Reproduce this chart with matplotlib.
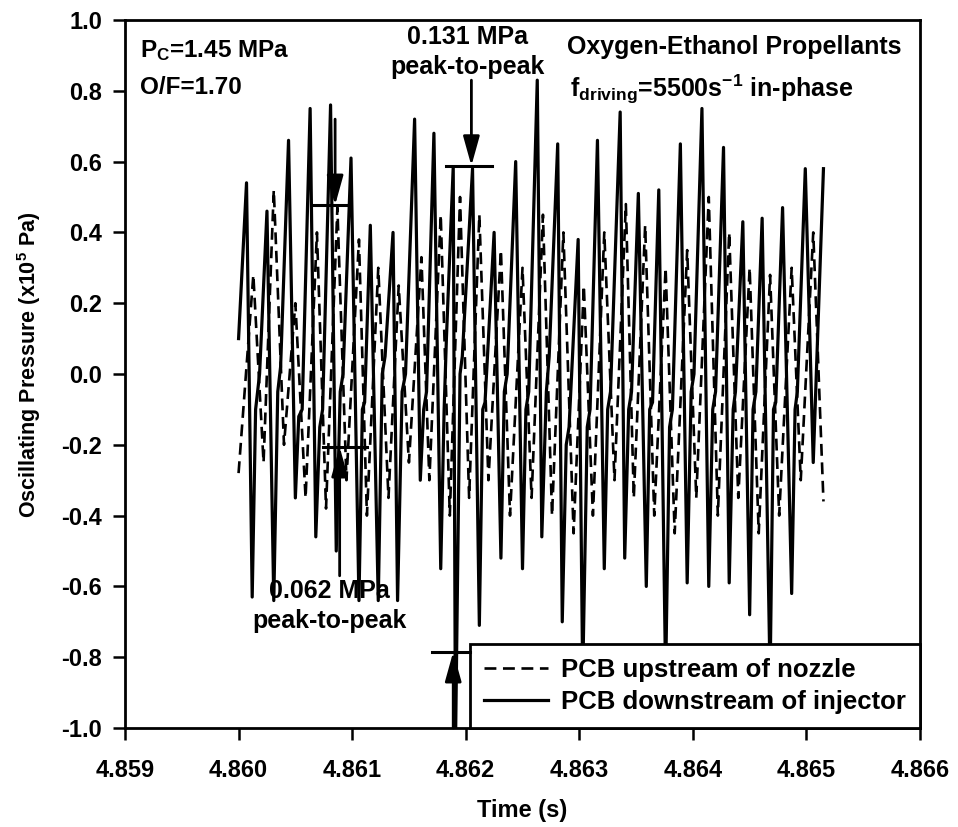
import matplotlib
matplotlib.use("Agg")
import matplotlib.pyplot as plt

plt.rcParams['font.family'] = ['Liberation Sans', 'DejaVu Sans']
plt.rcParams['font.weight'] = 'bold'
plt.rcParams['axes.labelweight'] = 'bold'
plt.rcParams['mathtext.default'] = 'regular'

t0 = 4.860

# downstream of injector (solid): time offsets in microseconds from 4.860 s, values in 1e5 Pa
down_us = [0, 70, 120, 150, 185, 250, 310, 345, 370, 440, 500, 530, 560, 630, 680, 715, 740,
           810, 860, 895, 920, 990, 1060, 1090, 1110, 1160, 1230, 1265, 1290, 1360, 1400, 1440, 1470,
           1550, 1600, 1630, 1655, 1720, 1780, 1810, 1830, 1890, 1910, 1950, 1970,
           2060, 2120, 2150, 2170, 2250, 2310, 2340, 2365, 2440, 2500, 2530, 2555,
           2630, 2670, 2710, 2735, 2810, 2850, 2885, 2910, 2990, 3030, 3070, 3095,
           3160, 3220, 3250, 3275, 3360, 3400, 3435, 3460, 3520, 3590, 3620, 3645,
           3700, 3760, 3795, 3820, 3890, 3950, 3985, 4010, 4080, 4140, 4175, 4200,
           4270, 4320, 4355, 4375, 4440, 4500, 4530, 4555, 4610, 4680, 4710, 4730,
           4790, 4870, 4900, 4920, 4990, 5060, 5150]
down_val = [0.10, 0.54, -0.63, -0.10, 0.00, 0.46, -0.64, -0.05, 0.02, 0.66, -0.35, -0.12, -0.10, 0.75, -0.46, -0.15, -0.10,
            0.76, -0.50, -0.05, 0.00, 0.61, -0.64, -0.10, -0.08, 0.42, -0.64, 0.00, 0.05, 0.40, -0.64, -0.05, 0.00,
            0.72, -0.30, -0.10, -0.05, 0.68, -0.55, -0.10, 0.10, 0.585, -1.05, 0.00, 0.05,
            0.58, -0.71, -0.10, -0.08, 0.40, -0.52, -0.05, 0.00, 0.60, -0.55, -0.10, -0.05,
            0.83, -0.46, -0.05, 0.05, 0.65, -0.70, -0.20, -0.15, 0.38, -0.86, -0.15, -0.10,
            0.66, -0.55, -0.10, -0.05, 0.74, -0.52, -0.10, -0.05, 0.51, -0.60, -0.10, -0.08,
            0.52, -0.86, -0.15, -0.10, 0.65, -0.59, -0.05, 0.00, 0.75, -0.60, -0.10, -0.05,
            0.64, -0.59, -0.10, -0.05, 0.43, -0.68, -0.10, -0.05, 0.44, -0.86, -0.10, -0.08,
            0.47, -0.62, -0.10, -0.05, 0.58, -0.25, 0.58]

# upstream of nozzle (dashed)
up_us = [0, 130, 220, 310, 400, 500, 590, 690, 770, 870, 950, 1060, 1130, 1230, 1320, 1410, 1500,
         1610, 1680, 1780, 1860, 1950, 2030, 2120, 2200, 2310, 2390, 2500, 2580, 2680, 2760, 2860, 2950,
         3040, 3120, 3220, 3310, 3410, 3480, 3580, 3660, 3760, 3840, 3950, 4030, 4140, 4220, 4320, 4400,
         4500, 4580, 4680, 4760, 4870, 4950, 5060, 5150]
up_val = [-0.28, 0.28, -0.25, 0.52, -0.20, 0.20, -0.35, 0.40, -0.38, 0.47, -0.30, 0.38, -0.40, 0.30, -0.35, 0.25, -0.25,
          0.33, -0.30, 0.45, -0.40, 0.50, -0.35, 0.45, -0.30, 0.35, -0.40, 0.30, -0.35, 0.45, -0.40, 0.40, -0.45,
          0.25, -0.40, 0.40, -0.30, 0.48, -0.35, 0.42, -0.40, 0.30, -0.45, 0.35, -0.35, 0.50, -0.40, 0.40, -0.35,
          0.30, -0.45, 0.28, -0.40, 0.30, -0.30, 0.40, -0.36]

x_ticks = [4.859, 4.860, 4.861, 4.862, 4.863, 4.864, 4.865, 4.866]
y_ticks = [-1.0, -0.8, -0.6, -0.4, -0.2, 0.0, 0.2, 0.4, 0.6, 0.8, 1.0]

t_down = [t0 + u * 1e-6 for u in down_us]
t_up = [t0 + u * 1e-6 for u in up_us]

fig = plt.figure(figsize=(9.58, 8.27), dpi=100)
ax = fig.add_axes([125 / 958, 1 - 728 / 827, (920 - 125) / 958, (728 - 20) / 827])

ax.plot(t_up, up_val, color='black', lw=1.9, ls=(0, (4.5, 2.5)), label='PCB upstream of nozzle', zorder=2)
ax.plot(t_down, down_val, color='black', lw=2.3, label='PCB downstream of injector', zorder=3)

ax.set_xlim(4.859, 4.866)
ax.set_ylim(-1.0, 1.0)
ax.set_xticks(x_ticks)
ax.set_xticklabels(['%.3f' % v for v in x_ticks])
ax.set_yticks(y_ticks)
ax.set_yticklabels(['%.1f' % v for v in y_ticks])
ax.tick_params(direction='out', length=8.5, width=1.8, labelsize=17)
ax.tick_params(axis='x', pad=14)
ax.tick_params(axis='y', pad=8)
for s in ax.spines.values():
    s.set_linewidth(2.0)

ax.set_xlabel('Time (s)', fontsize=17, labelpad=12)
ax.set_ylabel('Oscillating Pressure (x10$^5$ Pa)', fontsize=15.5)
ax.yaxis.set_label_coords(-0.103, 0.513)

arrow = dict(arrowstyle='-|>,head_width=0.25,head_length=0.9', color='black', lw=2.0,
             mutation_scale=20, shrinkA=0, shrinkB=0)

# 0.062 MPa peak-to-peak
ax.plot([4.86065, 4.86096], [0.477, 0.477], color='black', lw=2.2, zorder=4)
ax.annotate('', xy=(4.86085, 0.477), xytext=(4.86085, 0.72), arrowprops=arrow, zorder=4)
ax.plot([4.86074, 4.86113], [-0.206, -0.206], color='black', lw=2.2, zorder=4)
ax.annotate('', xy=(4.86089, -0.206), xytext=(4.86089, -0.57), arrowprops=arrow, zorder=4)
ax.text(4.86080, -0.655, '0.062 MPa\npeak-to-peak', ha='center', va='center', fontsize=18, linespacing=1.3)

# 0.131 MPa peak-to-peak
ax.plot([4.86183, 4.86223], [0.588, 0.588], color='black', lw=2.2, zorder=4)
ax.annotate('', xy=(4.86205, 0.588), xytext=(4.86205, 0.83), arrowprops=arrow, zorder=4)
ax.plot([4.86170, 4.86204], [-0.785, -0.785], color='black', lw=2.2, zorder=6)
ax.annotate('', xy=(4.86189, -0.785), xytext=(4.86189, -1.0), arrowprops=arrow, zorder=6)
ax.text(4.86202, 0.91, '0.131 MPa\npeak-to-peak', ha='center', va='center', fontsize=18, linespacing=1.35)

ax.text(4.85913, 0.915, 'P$_C$=1.45 MPa', ha='left', va='center', fontsize=17.5)
ax.text(4.85913, 0.81, 'O/F=1.70', ha='left', va='center', fontsize=17.5)
ax.text(4.86289, 0.925, 'Oxygen-Ethanol Propellants', ha='left', va='center', fontsize=18)
ax.text(4.86292, 0.805, 'f$_{driving}$=5500s$^{-1}$ in-phase', ha='left', va='center', fontsize=18)

leg = ax.legend(loc='lower right', fontsize=18.5, frameon=True, fancybox=False, borderaxespad=0,
                handlelength=2.5, handletextpad=0.5, borderpad=0.55, labelspacing=0.3)
leg.get_frame().set_edgecolor('black')
leg.get_frame().set_linewidth(2.0)
leg.get_frame().set_alpha(1)
leg.set_zorder(5)

fig.savefig('out.png', dpi=100)
